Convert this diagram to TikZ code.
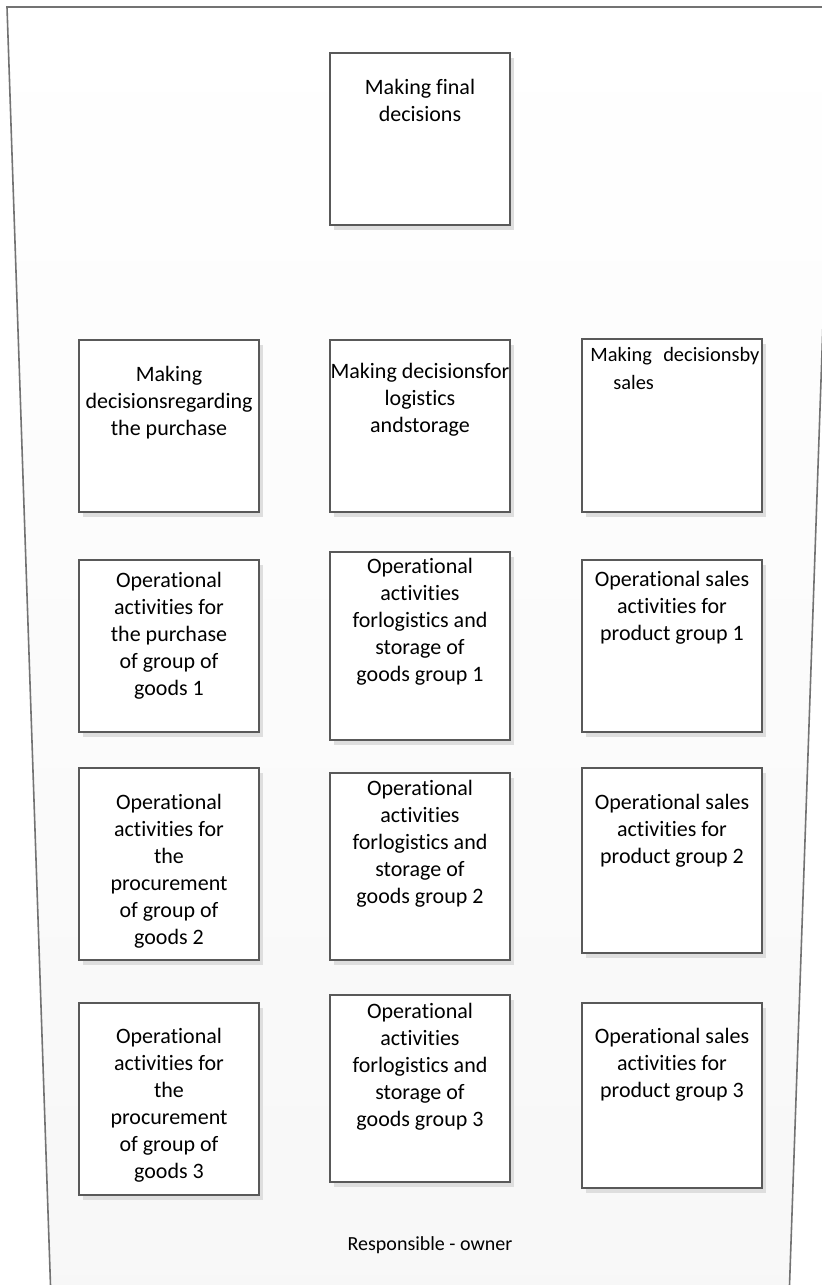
\documentclass[tikz,border=0pt]{standalone}
\usepackage{fontspec}
\setmainfont{Carlito}[Ligatures={NoCommon}]
\usetikzlibrary{shadows}
\newcommand\mybox[5]{\node[boxstyle, minimum width={(#4-#2)*0.5pt}, minimum height={(#5-#3)*0.5pt}] (#1) at (#2,#3) {};}
\begin{document}
\begin{tikzpicture}[x=0.5pt,y=-0.5pt,
  boxstyle/.style={draw=black!65, line width=0.6pt, fill=white, inner sep=0pt, outer sep=0pt, anchor=north west,
    general shadow={fill=black!13, shadow xshift=2pt, shadow yshift=-2.5pt}},
  txt/.style={anchor=north, align=center, inner sep=0pt, font=\fontsize{11pt}{13.5pt}\selectfont},
  lbl/.style={anchor=base, inner sep=0pt, font=\fontsize{10pt}{12pt}\selectfont}]
\useasboundingbox (0,0) rectangle (822,1285);
\clip (0,0) rectangle (822,1285);
\shade[top color=white, bottom color=black!3] (7,7) -- (834,7) -- (789,1300) -- (51,1300) -- cycle;
\draw[black!55, line width=0.8pt] (7,7) -- (834,7) -- (789,1300) -- (51,1300) -- cycle;

\mybox{top}{330}{53}{510}{225}
\mybox{a2}{79}{340}{259}{512}
\mybox{b2}{330}{340}{510}{512}
\mybox{c2}{582}{339}{762}{512}
\mybox{a3}{79}{560}{259}{732}
\mybox{b3}{330}{552}{510}{740}
\mybox{c3}{582}{560}{762}{732}
\mybox{a4}{79}{768}{259}{960}
\mybox{b4}{330}{773}{510}{960}
\mybox{c4}{582}{768}{762}{953}
\mybox{a5}{79}{1003}{259}{1195}
\mybox{b5}{330}{995}{510}{1182}
\mybox{c5}{582}{1003}{762}{1188}

\node[txt] (ttop) at (420,79) {Making final\\decisions};
\node[txt] (ta2) at (169,366) {Making\\decisionsregarding\\the purchase};
\node[txt] (tb2) at (420,363) {Making decisionsfor\\logistics\\andstorage};
\node[txt, anchor=north west, align=left, font=\fontsize{10.2pt}{13.8pt}\selectfont] (tc2) at (590,347) {\makebox[84.5pt]{Making\hfill decisionsby}\\\hspace*{11.5pt}sales};
\node[txt] (ta3) at (169,572) {Operational\\activities for\\the purchase\\of group of\\goods 1};
\node[txt] (tb3) at (420,558) {Operational\\activities\\forlogistics and\\storage of\\goods group 1};
\node[txt] (tc3) at (672,571) {Operational sales\\activities for\\product group 1};
\node[txt] (ta4) at (169,794) {Operational\\activities for\\the\\procurement\\of group of\\goods 2};
\node[txt] (tb4) at (420,780) {Operational\\activities\\forlogistics and\\storage of\\goods group 2};
\node[txt] (tc4) at (672,794) {Operational sales\\activities for\\product group 2};
\node[txt] (ta5) at (169,1028) {Operational\\activities for\\the\\procurement\\of group of\\goods 3};
\node[txt] (tb5) at (420,1003) {Operational\\activities\\forlogistics and\\storage of\\goods group 3};
\node[txt] (tc5) at (672,1028) {Operational sales\\activities for\\product group 3};

\node[lbl] (owner) at (430,1250) {Responsible - owner};
\end{tikzpicture}
\end{document}
